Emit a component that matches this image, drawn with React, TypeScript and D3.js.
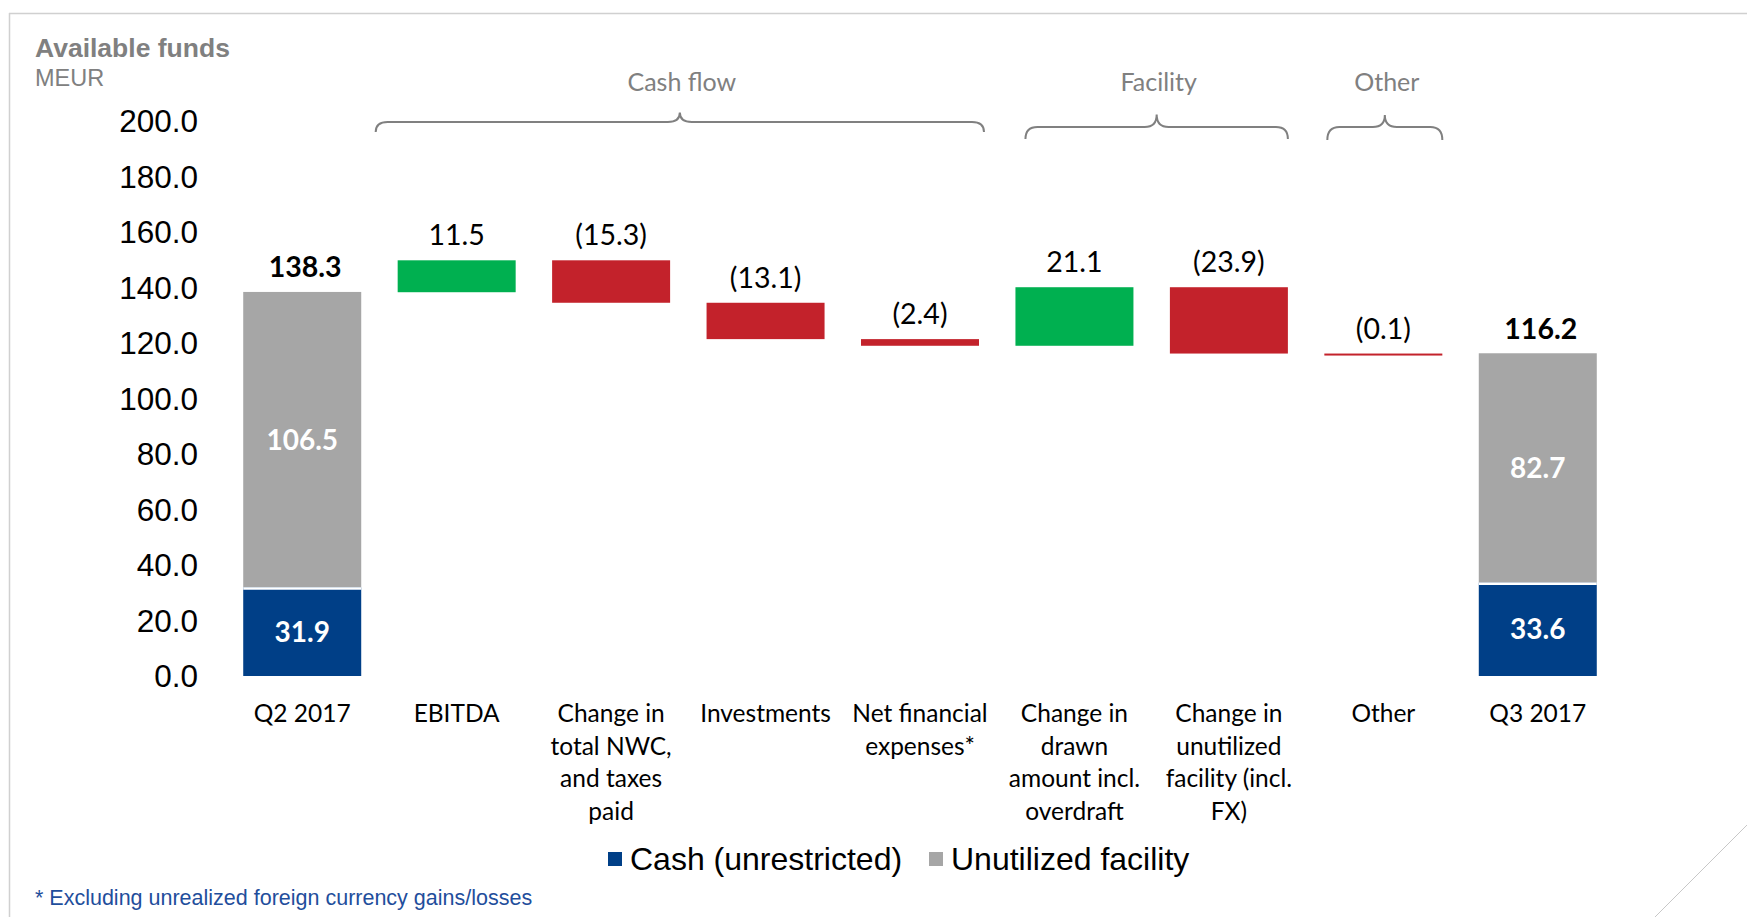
import React from 'react';
import * as d3 from 'd3';

// values (MEUR)
const categories = [
  'Q2 2017',
  'EBITDA',
  'Change in\ntotal NWC,\nand taxes\npaid',
  'Investments',
  'Net financial\nexpenses*',
  'Change in\ndrawn\namount incl.\noverdraft',
  'Change in\nunutilized\nfacility (incl.\nFX)',
  'Other',
  'Q3 2017',
];
const cashValues = [31.9, 33.6];
const facilityValues = [106.5, 82.7];
const totalLabels = [138.3, 116.2];
const deltas = [11.5, -15.3, -13.1, -2.4, 21.1, -23.9, -0.1];
const yTickValues = [0, 20, 40, 60, 80, 100, 120, 140, 160, 180, 200];
const legendItems = ['Cash (unrestricted)', 'Unutilized facility'];
const groups = [
  { label: 'Cash flow', first: 1, last: 4 },
  { label: 'Facility', first: 5, last: 6 },
  { label: 'Other', first: 7, last: 7 },
];

const W = 1747, H = 917;
const BLUE = '#003F87', GRAY = '#A6A6A6', GREEN = '#00B050', RED = '#C3222B';
const BRACE = '#808080';
const CAL = 'Lato, "Open Sans", sans-serif';
const ARIAL = '"Liberation Sans", Arial, sans-serif';

// brace geometry per group: [left inset, line y, end drop, peak height]
const braceShape = [
  [-22, 122, 10, 9.5],
  [10, 127, 12, 12.5],
  [3, 127, 13, 12],
];

const fmt = (v: number) => (v < 0 ? `(${Math.abs(v).toFixed(1)})` : v.toFixed(1));

export default function App() {
  const y = d3.scaleLinear().domain([0, 200]).range([676, 121]);
  const x = d3.scaleBand<string>()
    .domain(categories)
    .range([225, 1615])
    .paddingInner(0.236)
    .paddingOuter(0.118);
  const bw = x.bandwidth();

  // waterfall steps
  let running = totalLabels[0];
  const steps = deltas.map((d, i) => {
    const from = running;
    running += d;
    return { cat: categories[i + 1], from, to: running, d };
  });

  const ends = [
    { cat: categories[0], cash: cashValues[0], fac: facilityValues[0], total: totalLabels[0] },
    { cat: categories[8], cash: cashValues[1], fac: facilityValues[1], total: totalLabels[1] },
  ];

  const brace = (x0: number, x1: number, yl: number, drop: number, peak: number) => {
    const xm = (x0 + x1) / 2;
    const r = 12;
    const p = d3.path();
    p.moveTo(x0, yl + drop);
    p.quadraticCurveTo(x0, yl, x0 + r, yl);
    p.lineTo(xm - r, yl);
    p.quadraticCurveTo(xm, yl, xm, yl - peak);
    p.quadraticCurveTo(xm, yl, xm + r, yl);
    p.lineTo(x1 - r, yl);
    p.quadraticCurveTo(x1, yl, x1, yl + drop);
    return p.toString();
  };

  return (
    <svg width={W} height={H} style={{ position: 'absolute', left: 0, top: 0, display: 'block' }}>
      <rect width={W} height={H} fill="#fff" />
      {/* slide frame */}
      <line x1={9} y1={13.5} x2={W} y2={13.5} stroke="#d0d0d0" strokeWidth={1.5} />
      <line x1={9.5} y1={13} x2={9.5} y2={H} stroke="#d0d0d0" strokeWidth={1.5} />
      <line x1={W} y1={825} x2={1655} y2={H} stroke="#c8c8c8" strokeWidth={1} />

      <text x={35} y={57} fontFamily={ARIAL} fontWeight="bold" fontSize={26.5} fill="#808080">Available funds</text>
      <text x={35} y={86} fontFamily={ARIAL} fontSize={23.5} fill="#808080">MEUR</text>

      {/* y axis labels */}
      {yTickValues.map(t => (
        <text key={t} x={198} y={y(t)} dy="0.36em" textAnchor="end" fontFamily={ARIAL} fontSize={31.5} fill="#000">
          {t.toFixed(1)}
        </text>
      ))}

      {/* group braces */}
      {groups.map((g, i) => {
        const [inset, yl, drop, peak] = braceShape[i];
        const x0 = x(categories[g.first])! + inset;
        const x1 = x(categories[g.last])! + bw + (i === 0 ? 5 : 0);
        return (
          <g key={g.label}>
            <path d={brace(x0, x1, yl, drop, peak)} fill="none" stroke={BRACE} strokeWidth={2} />
            <text x={(x0 + x1) / 2 + 2} y={91} textAnchor="middle" fontFamily={CAL} fontSize={25} fill={BRACE}>{g.label}</text>
          </g>
        );
      })}

      {/* opening / closing stacks */}
      {ends.map(e => {
        const bx = x(e.cat)!;
        return (
          <g key={e.cat}>
            <rect x={bx} y={y(e.cash + e.fac)} width={bw} height={y(e.cash) - y(e.cash + e.fac)} fill={GRAY} />
            <rect x={bx} y={y(e.cash)} width={bw} height={y(0) - y(e.cash)} fill={BLUE} />
            <line x1={bx} x2={bx + bw} y1={y(e.cash) + 1} y2={y(e.cash) + 1} stroke="#fff" strokeWidth={2.5} />
            <text x={bx + bw / 2} y={(y(e.cash) + y(e.cash + e.fac)) / 2} dy="0.36em" textAnchor="middle"
              fontFamily={CAL} fontWeight="bold" fontSize={28} fill="#fff">{e.fac.toFixed(1)}</text>
            <text x={bx + bw / 2} y={(y(0) + y(e.cash)) / 2} dy="0.36em" textAnchor="middle"
              fontFamily={CAL} fontWeight="bold" fontSize={28} fill="#fff">{e.cash.toFixed(1)}</text>
            <text x={bx + bw / 2 + 3} y={y(e.total) - 15} textAnchor="middle"
              fontFamily={CAL} fontWeight="bold" fontSize={28.5} fill="#000">{e.total.toFixed(1)}</text>
          </g>
        );
      })}

      {/* waterfall deltas */}
      {steps.map(s => {
        const bx = x(s.cat)!;
        const top = Math.min(y(s.from), y(s.to));
        const h = Math.max(2, Math.abs(y(s.from) - y(s.to)));
        return (
          <g key={s.cat}>
            <rect x={bx} y={top} width={bw} height={h} fill={s.d >= 0 ? GREEN : RED} />
            <text x={bx + bw / 2} y={top - 15} textAnchor="middle" fontFamily={CAL} fontSize={28.5} fill="#000">
              {fmt(s.d)}
            </text>
          </g>
        );
      })}

      {/* category labels */}
      {categories.map(c => (
        <text key={c} x={x(c)! + bw / 2} y={y(0) + 46} textAnchor="middle" fontFamily={CAL} fontSize={24.5} fill="#000">
          {c.split('\n').map((line, i) => (
            <tspan key={i} x={x(c)! + bw / 2} dy={i === 0 ? 0 : 32.5}>{line}</tspan>
          ))}
        </text>
      ))}

      {/* legend */}
      <g fontFamily={ARIAL} fontSize={32} fill="#000">
        <rect x={608} y={852} width={14} height={14} fill={BLUE} />
        <text x={630} y={870}>{legendItems[0]}</text>
        <rect x={929} y={852} width={14} height={14} fill={GRAY} />
        <text x={951} y={870}>{legendItems[1]}</text>
      </g>

      <text x={35} y={905} fontFamily={ARIAL} fontSize={21.5} fill="#1F4E9C">
        * Excluding unrealized foreign currency gains/losses
      </text>
    </svg>
  );
}
